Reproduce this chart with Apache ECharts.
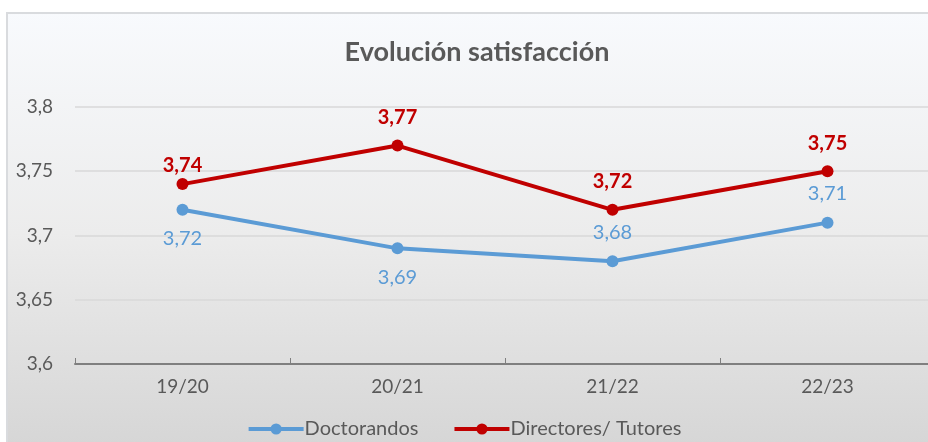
<!DOCTYPE html>
<html>
<head>
<meta charset="utf-8">
<script src="https://cdn.jsdelivr.net/npm/echarts@6/dist/echarts.min.js"></script>
<style>
  html, body { margin: 0; padding: 0; background: #ffffff; }
  #main { width: 928px; height: 442px; }
</style>
</head>
<body>
<div id="main"></div>
<script>
var categories = ['19/20', '20/21', '21/22', '22/23'];
var doctorandos = [3.72, 3.69, 3.68, 3.71];
var directores = [3.74, 3.77, 3.72, 3.75];
var doctorandosLabelPos = ['bottom', 'bottom', 'top', 'top'];

var comma = function (v) {
    return String(v).replace('.', ',');
};

var myChart = echarts.init(document.getElementById('main'), null, {
    renderer: 'canvas'
});

var font = 'Lato, "Open Sans", sans-serif';

var option = {
    animation: false,
    textStyle: { fontFamily: font },
    graphic: [{
        type: 'rect',
        z: -10,
        shape: { x: 7, y: 13, width: 930, height: 440 },
        style: {
            fill: new echarts.graphic.LinearGradient(0, 0, 0, 1, [
                { offset: 0, color: '#f8fafd' },
                { offset: 0.5, color: '#ececec' },
                { offset: 1, color: '#d5d5d5' }
            ]),
            stroke: '#d9dbde',
            lineWidth: 2
        }
    }],
    title: {
        text: 'Evolución satisfacción',
        left: 472,
        top: 34,
        textAlign: 'center',
        textStyle: {
            fontFamily: font,
            fontSize: 27,
            fontWeight: 'bold',
            color: '#595959'
        }
    },
    legend: {
        bottom: -2,
        left: 'center',
        itemWidth: 55,
        itemHeight: 14,
        itemGap: 34,
        lineStyle: { width: 4 },
        textStyle: { fontFamily: font, fontSize: 20, color: '#595959', padding: [0, 0, 0, -4] },
        data: ['Doctorandos', 'Directores/ Tutores']
    },
    grid: {
        left: 75,
        width: 860,
        top: 107,
        bottom: 78,
        outerBoundsMode: 'none'
    },
    xAxis: {
        type: 'category',
        data: categories,
        boundaryGap: true,
        axisLine: { lineStyle: { color: '#7f7f7f', width: 2 } },
        axisTick: { show: true, inside: true, length: 6, lineStyle: { color: '#7f7f7f' } },
        axisLabel: { fontFamily: font, fontSize: 19, color: '#595959', margin: 13 }
    },
    yAxis: {
        type: 'value',
        min: 3.6,
        max: 3.8,
        interval: 0.05,
        axisLine: { show: false },
        axisTick: { show: false },
        splitLine: { lineStyle: { color: '#d9d9d9', width: 1.5 } },
        axisLabel: {
            fontFamily: font,
            fontSize: 19,
            color: '#595959',
            margin: 22,
            formatter: comma
        }
    },
    series: [{
        name: 'Doctorandos',
        type: 'line',
        data: doctorandos.map(function (v, i) {
            return { value: v, label: { position: doctorandosLabelPos[i] } };
        }),
        color: '#5b9bd5',
        symbol: 'circle',
        symbolSize: 12,
        lineStyle: { width: 4 },
        label: {
            show: true,
            distance: 13,
            fontFamily: font,
            fontSize: 20,
            color: '#5b9bd5',
            formatter: function (p) { return comma(p.value); }
        }
    }, {
        name: 'Directores/ Tutores',
        type: 'line',
        data: directores.map(function (v, i) {
            return { value: v, label: { distance: i === 0 ? 3 : 12 } };
        }),
        color: '#c00000',
        symbol: 'circle',
        symbolSize: 12,
        lineStyle: { width: 4 },
        label: {
            show: true,
            position: 'top',
            fontFamily: font,
            fontSize: 20,
            fontWeight: 'bold',
            color: '#c00000',
            formatter: function (p) { return comma(p.value); }
        }
    }]
};

myChart.setOption(option);
window.addEventListener('resize', myChart.resize);
</script>
</body>
</html>
